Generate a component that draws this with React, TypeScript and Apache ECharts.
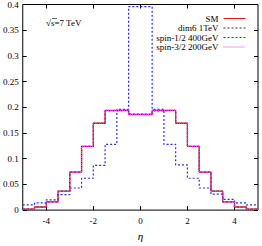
import React, { useEffect, useRef } from "react";
import * as echarts from "echarts";

const binStarts = [-5, -4.5, -4, -3.5, -3, -2.5, -2, -1.5, -1, -0.5, 0, 0.5, 1, 1.5, 2, 2.5, 3, 3.5, 4, 4.5];
const binEnd = 5;
const smValues = [0.002, 0.006, 0.016, 0.037, 0.074, 0.124, 0.169, 0.194, 0.194, 0.186, 0.186, 0.194, 0.194, 0.169, 0.124, 0.074, 0.037, 0.016, 0.006, 0.002];
const dim6Values = [0.002, 0.006, 0.016, 0.037, 0.074, 0.124, 0.169, 0.193, 0.194, 0.187, 0.186, 0.193, 0.194, 0.169, 0.124, 0.074, 0.037, 0.016, 0.006, 0.002];
const spinHalfValues = [0.010, 0.014, 0.020, 0.030, 0.043, 0.062, 0.087, 0.128, 0.196, 0.396, 0.396, 0.196, 0.128, 0.088, 0.062, 0.043, 0.031, 0.021, 0.014, 0.010];
const spin32Values = [0.002, 0.006, 0.016, 0.037, 0.074, 0.124, 0.169, 0.194, 0.194, 0.186, 0.186, 0.194, 0.194, 0.169, 0.124, 0.074, 0.037, 0.016, 0.006, 0.002];
const seriesNames = ["SM", "dim6 1TeV", "spin-1/2 400GeV", "spin-3/2 200GeV"];
const xTicks = [-4, -2, 0, 2, 4];

const FONT = "Liberation Serif";

function histData(vals: number[]) {
  const d: number[][] = binStarts.map((x, i) => [x, vals[i]]);
  d.push([binEnd, vals[vals.length - 1]]);
  return d;
}

export default function App() {
  const ref = useRef<HTMLDivElement>(null);
  useEffect(() => {
    if (!ref.current) return;
    const chart = echarts.init(ref.current, null, { renderer: "svg" });
    const tickStyle = { inside: true, length: 4, lineStyle: { color: "#000", width: 1 } };
    const mk = (name: string, vals: number[], color: string, type: any, width: number, z: number) => ({
      name,
      type: "line",
      step: "end",
      symbol: "none",
      showSymbol: false,
      data: histData(vals),
      lineStyle: { color, type, width },
      itemStyle: { color },
      z,
    });
    chart.setOption({
      animation: false,
      grid: { left: 18, top: 4, right: 4, bottom: 25, show: true, borderColor: "#000", borderWidth: 1, backgroundColor: "transparent" },
      legend: {
        orient: "vertical",
        right: 11,
        top: 9,
        align: "right",
        itemWidth: 22,
        itemHeight: 6,
        itemGap: 0.5,
        itemStyle: { opacity: 0 },
        lineStyle: { width: 1 },
        textStyle: { fontFamily: FONT, fontSize: 9, lineHeight: 8, color: "#000", padding: [0, 0, 0, 0] },
        data: seriesNames,
      },
      xAxis: [
        {
          type: "value",
          min: -5,
          max: 5,
          name: "η",
          nameLocation: "middle",
          nameGap: 19,
          nameTextStyle: { fontFamily: FONT, fontSize: 11, color: "#000", fontStyle: "italic" },
          axisLine: { show: false, onZero: false },
          splitLine: { show: false },
          axisTick: { ...tickStyle, customValues: xTicks },
          axisLabel: { customValues: xTicks, fontFamily: FONT, fontSize: 9, color: "#000", margin: 6 },
        },
        {
          type: "value",
          position: "top",
          min: -5,
          max: 5,
          axisLine: { show: false, onZero: false },
          splitLine: { show: false },
          axisTick: { ...tickStyle, customValues: xTicks },
          axisLabel: { show: false, customValues: xTicks },
        },
      ],
      yAxis: [
        {
          type: "value",
          min: 0,
          max: 0.4,
          interval: 0.05,
          axisLine: { show: false, onZero: false },
          splitLine: { show: false },
          axisTick: { ...tickStyle },
          axisLabel: { fontFamily: FONT, fontSize: 9, color: "#000", margin: 4 },
        },
        {
          type: "value",
          position: "right",
          min: 0,
          max: 0.4,
          interval: 0.05,
          axisLine: { show: false, onZero: false },
          splitLine: { show: false },
          axisTick: { ...tickStyle },
          axisLabel: { show: false },
        },
      ],
      graphic: [
        {
          type: "text",
          left: 46,
          top: 18,
          style: { text: "√s=7 TeV", fontFamily: FONT, fontSize: 9, fill: "#000" },
        },
        {
          type: "line",
          shape: { x1: 52, y1: 18.5, x2: 57, y2: 18.5 },
          style: { stroke: "#000", lineWidth: 0.6 },
        },
      ],
      series: [
        mk(seriesNames[0], smValues, "#e8141e", "solid", 1.3, 2),
        mk(seriesNames[1], dim6Values, "#333333", [2, 2], 1.2, 3),
        mk(seriesNames[2], spinHalfValues, "#2a2aff", [2, 2], 1.2, 4),
        mk(seriesNames[3], spin32Values, "#ff33ff", [1, 1], 1.2, 5),
      ],
    });
    return () => chart.dispose();
  }, []);
  return <div ref={ref} style={{ position: "absolute", left: 0, top: 0, width: 262, height: 246 }} />;
}
